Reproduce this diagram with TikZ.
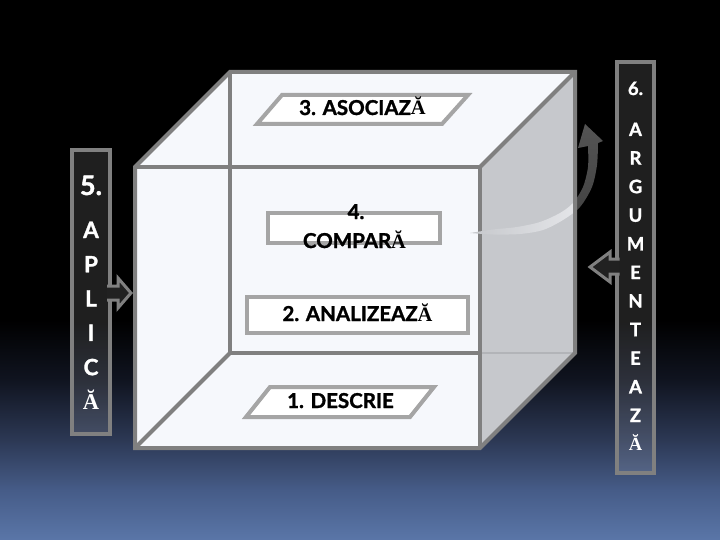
\documentclass[tikz,border=0pt]{standalone}
\usepackage{fontspec}
\setmainfont{Lato}[BoldFeatures={FakeBold=1.3}]
\newfontfamily\brevefont{Liberation Serif}
\usetikzlibrary{positioning}

\definecolor{edgegrey}{RGB}{128,128,128}
\definecolor{boxgrey}{RGB}{165,165,165}
\definecolor{facelight}{RGB}{246,248,252}
\definecolor{faceside}{RGB}{198,200,204}
\definecolor{bgbottom}{RGB}{90,118,168}
\definecolor{bgmid}{RGB}{70,92,136}
\definecolor{bglow}{RGB}{44,56,84}
\definecolor{bgdark}{RGB}{16,20,32}
\definecolor{curllight}{RGB}{236,237,240}
\definecolor{curldark}{RGB}{84,84,84}

\pgfdeclareverticalshading{slidebg}{100bp}{color(0bp)=(bgbottom); color(25bp)=(bgbottom); color(29.6bp)=(bgmid); color(34.3bp)=(bglow); color(39.8bp)=(bgdark); color(45.4bp)=(black); color(100bp)=(black)}

% serif breve A, as on the slide
\newcommand{\Abr}{{\brevefont Ă}}
% outline of the curved arrow
\newcommand{\curlpath}{(470,233)
  -- plot[smooth] coordinates {(470,233) (493,234.5) (520,234) (543,230) (563,220) (580,207) (592,187) (597,165) (598,143)}
  -- (603,141) -- (585,124) -- (578,148)
  -- plot[smooth] coordinates {(588,146) (588,167) (583,187) (573,203) (560,213) (540,222) (517,227) (493,229.5) (470,233)}
  -- cycle}

\tikzset{
  cubeedge/.style={draw=edgegrey, line width=4pt},
  labelbox/.style={draw=boxgrey, fill=white, line width=4pt, inner sep=0pt},
  steptext/.style={font=\fontsize{20.5}{22}\selectfont\bfseries, text=black, inner sep=0pt, anchor=base},
  sidebox/.style={draw=edgegrey, line width=4.5pt, fill=white, fill opacity=0.12, inner sep=0pt},
  sidetext/.style={text=white, inner sep=0pt, anchor=base},
  blockarrow/.style={draw=edgegrey, line width=3pt, fill=black!87},
}

\begin{document}
\begin{tikzpicture}[x=1pt,y=-1pt]
\useasboundingbox (0,0) rectangle (720,540);
\shade[shading=slidebg] (0,0) rectangle (720,540);

% cube corners
\coordinate (fTL) at (135,167);
\coordinate (fTR) at (480,167);
\coordinate (fBR) at (480,448);
\coordinate (fBL) at (135,448);
\coordinate (bTL) at (230,72);
\coordinate (bTR) at (575,72);
\coordinate (bBR) at (575,353);
\coordinate (bBL) at (230,353);

\fill[facelight] (fBL) -- (fTL) -- (bTL) -- (bTR) -- (fTR) -- (fBR) -- cycle;
\fill[faceside] (fTR) -- (bTR) -- (bBR) -- (fBR) -- cycle;
\draw[draw=faceside!90!black, line width=2pt] (bBL -| fTR) -- (bBR);
\draw[cubeedge] (bTL) -- (bBL) -- (bBL -| fTR);
\draw[cubeedge] (bBL) -- (fBL);
\draw[cubeedge] (fTL) -- (fTR) -- (fBR);
\draw[cubeedge] (fTR) -- (bTR);

% curved arrow: light over the face, dark over the background
\begin{scope}
  \clip (470,0) rectangle (577,540);
  \shade[left color=faceside, right color=curllight] \curlpath;
\end{scope}
\begin{scope}
  \clip (577,0) rectangle (720,540);
  \shade[top color=curldark, bottom color=black!75] \curlpath;
\end{scope}

\draw[cubeedge] (fBL) -- (fTL) -- (bTL) -- (bTR) -- (bBR) -- (fBR) -- cycle;

% steps inside the cube
\draw[labelbox] (282,95) -- (468,95) -- (442,124) -- (257,124) -- cycle;
\node[steptext] (asociaza) at (362.5,115) {3. ASOCIAZ\Abr};

\node[labelbox, minimum width=172pt, minimum height=30pt] (comparaBox) at (354,228) {};
\node[steptext] (comparaNum) at (356,219) {4.};
\node[steptext] (compara) at (354.5,248) {COMPAR\Abr};

\node[labelbox, minimum width=221pt, minimum height=36pt] (analizeazaBox) at (357.5,315) {};
\node[steptext] (analizeaza) at (357.5,321) {2. ANALIZEAZ\Abr};

\draw[labelbox] (270,387) -- (434,387) -- (410,417) -- (246,417) -- cycle;
\node[steptext] (descrie) at (340.5,408) {1. DESCRIE};

% 5. APLICA
\node[sidebox, minimum width=38pt, minimum height=284pt] (aplicaBox) at (91,292) {};
\filldraw[blockarrow] (107,286) -- (118,286) -- (118,278) -- (131,293) -- (118,308) -- (118,300) -- (107,300);
\node[sidetext, font=\fontsize{27}{30}\selectfont\bfseries] (aplicaNum) at (91,195) {5.};
\foreach \ch [count=\i from 0] in {A,P,L,I,C,\Abr}
  \node[sidetext, font=\fontsize{22.5}{25}\selectfont\bfseries] (aplica\i) at (91,238+34.3*\i) {\ch};

% 6. ARGUMENTEAZA
\node[sidebox, minimum width=37pt, minimum height=411pt] (argBox) at (635.5,267.5) {};
\filldraw[blockarrow] (619.5,259) -- (610,259) -- (610,252) -- (590,267) -- (610,282) -- (610,274) -- (619.5,274);
\node[sidetext, font=\fontsize{18.5}{21}\selectfont\bfseries] (argNum) at (635.5,95) {6.};
\foreach \ch [count=\i from 0] in {A,R,G,U,M,E,N,T,E,A,Z,\Abr}
  \node[sidetext, font=\fontsize{18.5}{21}\selectfont\bfseries] (arg\i) at (635.5,136+28.6*\i) {\ch};
\end{tikzpicture}
\end{document}
